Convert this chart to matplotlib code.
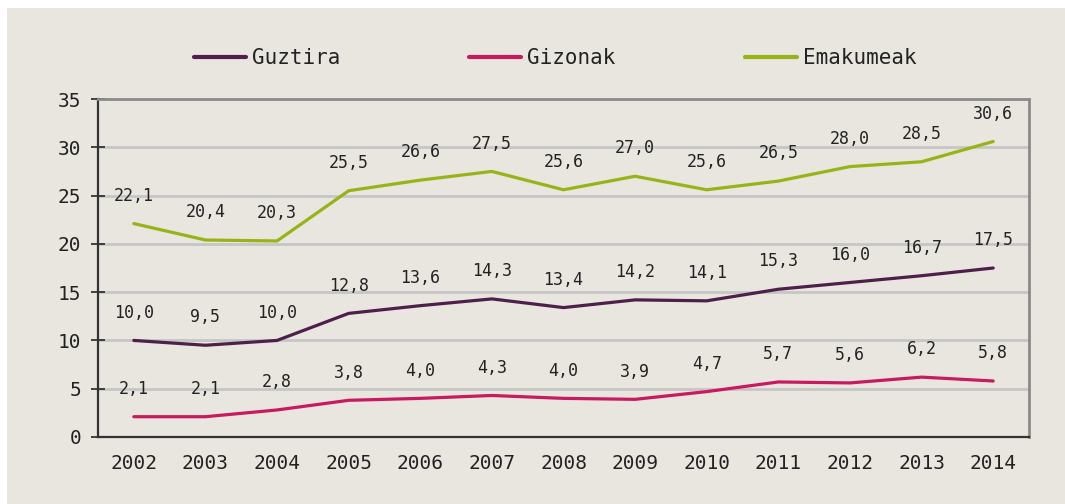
import matplotlib
matplotlib.use("Agg")
import matplotlib.pyplot as plt
from matplotlib.patches import Rectangle

years = ["2002", "2003", "2004", "2005", "2006", "2007", "2008", "2009",
         "2010", "2011", "2012", "2013", "2014"]
guztira = [10.0, 9.5, 10.0, 12.8, 13.6, 14.3, 13.4, 14.2, 14.1, 15.3, 16.0, 16.7, 17.5]
gizonak = [2.1, 2.1, 2.8, 3.8, 4.0, 4.3, 4.0, 3.9, 4.7, 5.7, 5.6, 6.2, 5.8]
emakumeak = [22.1, 20.4, 20.3, 25.5, 26.6, 27.5, 25.6, 27.0, 25.6, 26.5, 28.0, 28.5, 30.6]
series_names = ["Guztira", "Gizonak", "Emakumeak"]
colors = ["#4e1f4b", "#c81a5e", "#97b416"]
yticks = [0, 5, 10, 15, 20, 25, 30, 35]

BG = "#e9e6e0"
FONT = "DejaVu Sans Mono"
TXT = "#222222"
plt.rcParams["font.family"] = FONT

W, H = 1065, 504
fig = plt.figure(figsize=(W / 100, H / 100), dpi=100)
fig.patch.set_facecolor("white")
fig.patches.append(Rectangle((7 / W, 0), 1 - 7 / W, 1 - 8 / H, transform=fig.transFigure,
                             facecolor=BG, edgecolor="none", zorder=-10))

ax = fig.add_axes([98 / W, 1 - 437 / H, (1029 - 98) / W, (437 - 99) / H])
ax.set_facecolor(BG)

x = list(range(len(years)))
for vals, name, c in zip([guztira, gizonak, emakumeak], series_names, colors):
    ax.plot(x, vals, color=c, lw=2.3, label=name, solid_capstyle="round", zorder=3)
    for xi, v in zip(x, vals):
        ax.annotate(f"{v:.1f}".replace(".", ","), (xi, v), xytext=(0, 20),
                    textcoords="offset points", ha="center", va="center",
                    fontsize=12, color=TXT, zorder=4)

ax.set_xlim(-0.5, len(years) - 0.5)
ax.set_ylim(0, 35)
ax.set_yticks(yticks)
ax.set_xticks(x)
ax.set_xticklabels(years)
for yv in yticks[1:-1]:
    ax.axhline(yv, color="#c6c6c6", lw=2, zorder=1)

ax.tick_params(axis="y", direction="inout", length=10, width=1.3, color="#333333",
               labelsize=14, labelcolor=TXT, pad=7)
ax.tick_params(axis="x", length=0, labelsize=14, labelcolor=TXT, pad=12)

for s in ["left", "bottom"]:
    ax.spines[s].set_color("#333333")
    ax.spines[s].set_linewidth(1.6)
for s in ["top", "right"]:
    ax.spines[s].set_color("#8a8a8a")
    ax.spines[s].set_linewidth(2)

leg = fig.legend(loc="center", bbox_to_anchor=(555 / W, 1 - 58 / H), ncol=3, frameon=False,
                 fontsize=15, handlelength=2.5, handletextpad=0.28, columnspacing=6.2)
for t in leg.get_texts():
    t.set_color(TXT)
for l in leg.get_lines():
    l.set_linewidth(3)

fig.savefig("out.png", dpi=100, facecolor="white")
